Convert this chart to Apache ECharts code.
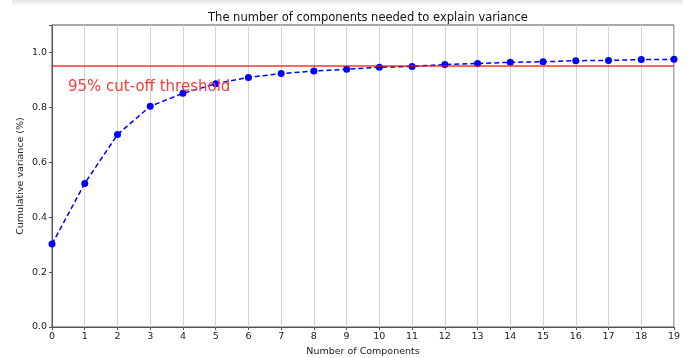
<!DOCTYPE html>
<html>
<head>
<meta charset="utf-8">
<script src="https://cdn.jsdelivr.net/npm/echarts@6/dist/echarts.min.js"></script>
<style>
  html, body { margin: 0; padding: 0; background: #fff; }
  #chart { width: 699px; height: 358px; }
</style>
</head>
<body>
<div id="chart"></div>
<script>
const components = [0, 1, 2, 3, 4, 5, 6, 7, 8, 9, 10, 11, 12, 13, 14, 15, 16, 17, 18, 19];
const cumVariance = [0.302, 0.523, 0.701, 0.804, 0.851, 0.886, 0.909, 0.923, 0.932, 0.939,
  0.946, 0.949, 0.956, 0.960, 0.964, 0.966, 0.970, 0.971, 0.974, 0.975];
const threshold = 0.95;
const yTicks = [0, 0.2, 0.4, 0.6, 0.8, 1.0];

const font = "DejaVu Sans";
const chart = echarts.init(document.getElementById("chart"));

const option = {
  animation: false,
  textStyle: { fontFamily: font },
  title: {
    text: "The number of components needed to explain variance",
    left: 363,
    top: 7,
    textAlign: "center",
    textStyle: { fontFamily: font, fontSize: 11.5, fontWeight: "normal", color: "#111" }
  },
  grid: {
    left: 52, right: 25, top: 25, bottom: 31,
    outerBoundsMode: "none",
    show: true, borderColor: "#555", borderWidth: 1
  },
  xAxis: {
    type: "value",
    min: 0,
    max: 19,
    interval: 1,
    name: "Number of Components",
    nameLocation: "middle",
    nameGap: 20,
    nameMoveOverlap: false,
    nameTextStyle: { fontFamily: font, fontSize: 9.5, color: "#222" },
    axisLine: { show: true, lineStyle: { color: "#555" } },
    axisTick: { show: true, length: 3, lineStyle: { color: "#555" } },
    axisLabel: { fontFamily: font, fontSize: 9.5, color: "#222", margin: 5 },
    splitLine: { show: true, lineStyle: { color: "#d3d3d3", width: 1 } }
  },
  yAxis: {
    type: "value",
    min: 0,
    max: 1.1,
    interval: 0.2,
    name: "Cumulative variance (%)",
    nameLocation: "middle",
    nameGap: 26,
    nameMoveOverlap: false,
    nameTextStyle: { fontFamily: font, fontSize: 9.5, color: "#222" },
    axisLine: { show: true, lineStyle: { color: "#555" } },
    axisTick: { show: true, length: 3, lineStyle: { color: "#555" } },
    axisLabel: {
      fontFamily: font, fontSize: 9.5, color: "#222", margin: 5,
      formatter: (v) => (yTicks.some((t) => Math.abs(t - v) < 1e-9) ? v.toFixed(1) : "")
    },
    splitLine: { show: false }
  },
  series: [
    {
      type: "line",
      data: components.map((c, i) => [c, cumVariance[i]]),
      symbol: "circle",
      symbolSize: 7,
      itemStyle: { color: "#0000ff" },
      lineStyle: { color: "#0000ff", width: 1.5, type: [5, 3] },
      markLine: {
        silent: true,
        symbol: "none",
        label: { show: false },
        lineStyle: { color: "#ff0000", width: 1.5, type: "solid", opacity: 0.8 },
        data: [{ yAxis: threshold }]
      },
      z: 3
    }
  ],
  graphic: [
    {
      type: "rect",
      left: 12,
      top: 0,
      shape: { width: 671, height: 6 },
      style: {
        fill: new echarts.graphic.LinearGradient(0, 0, 0, 1, [
          { offset: 0, color: "#e4e4e4" },
          { offset: 1, color: "#ffffff" }
        ])
      },
      silent: true
    },
    {
      type: "text",
      left: 68,
      top: 80,
      style: { text: "95% cut-off threshold", fill: "#f43d3d", font: "15px DejaVu Sans" },
      silent: true,
      z: 10
    }
  ]
};

chart.setOption(option);
window.onresize = function () {
  chart.resize();
};
</script>
</body>
</html>
